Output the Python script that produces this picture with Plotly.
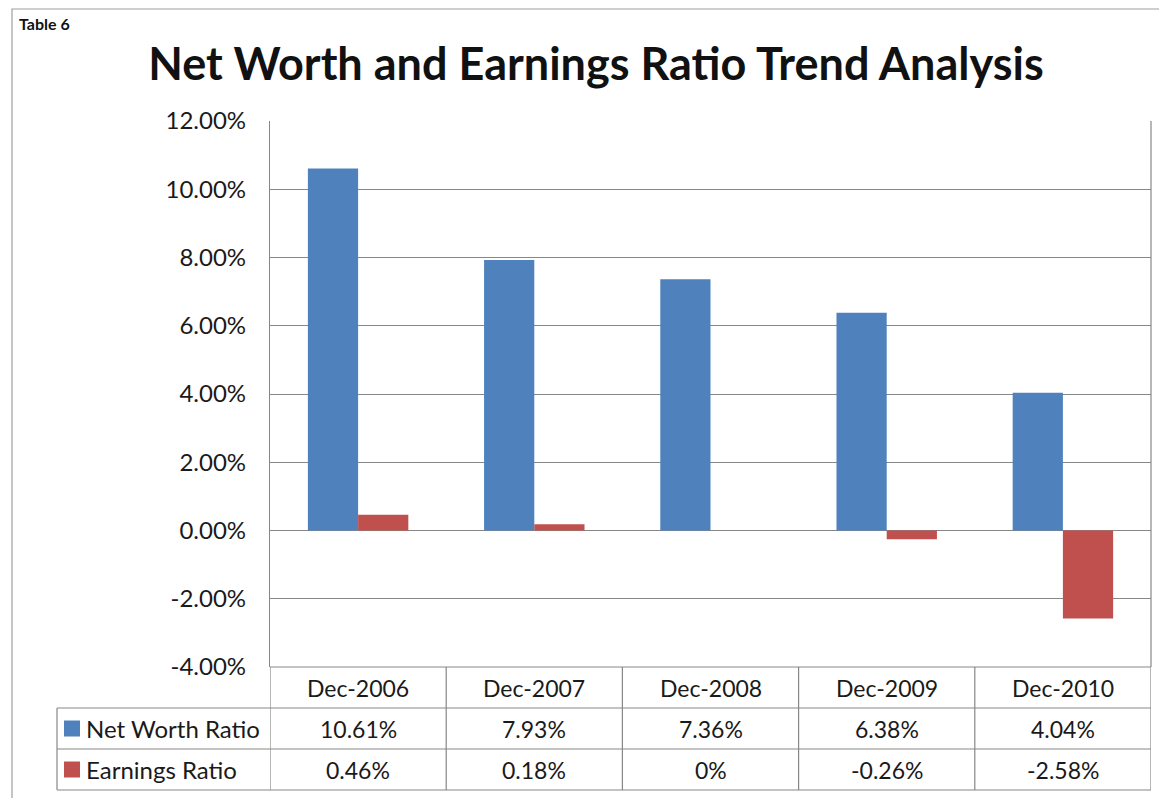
import plotly.graph_objects as go

categories = ["Dec-2006", "Dec-2007", "Dec-2008", "Dec-2009", "Dec-2010"]
net_worth = [10.61, 7.93, 7.36, 6.38, 4.04]
earnings = [0.46, 0.18, 0.0, -0.26, -2.58]
net_worth_labels = ["10.61%", "7.93%", "7.36%", "6.38%", "4.04%"]
earnings_labels = ["0.46%", "0.18%", "0%", "-0.26%", "-2.58%"]
series_names = ["Net Worth Ratio", "Earnings Ratio"]
colors = ["#4F81BD", "#C0504D"]
y_ticks = [-4, -2, 0, 2, 4, 6, 8, 10, 12]
y_tick_labels = ["-4.00%", "-2.00%", "0.00%", "2.00%", "4.00%", "6.00%", "8.00%", "10.00%", "12.00%"]
title_text = "Net Worth and Earnings Ratio Trend Analysis"
caption_text = "Table 6"

W, H = 1167, 798
OFF = 8  # page body margin offset
# plot area in reference (page) pixels
PL, PR, PT, PB = 270, 1151, 121, 667
L = PL - OFF
T = PT - OFF
R = W - (PR - OFF)
B = H - (PB - OFF)
plot_h = PB - PT
plot_w = PR - PL


def py(p):  # reference page pixel y -> paper y
    return (PB - p) / plot_h


def px(p):  # reference page pixel x -> paper x
    return (p - PL) / plot_w


FONT = "Lato"
grid = "#878787"

fig = go.Figure()
for name, vals, col in zip(series_names, [net_worth, earnings], colors):
    fig.add_trace(go.Bar(x=categories, y=vals, name=name, marker_color=col,
                         marker_line_width=0, showlegend=False))

shapes = []
annotations = []

# outer border
shapes.append(dict(type="rect", xref="paper", yref="paper",
                   x0=px(12), x1=px(1220), y0=py(9), y1=py(840),
                   line=dict(color="#a0a0a0", width=1.2), fillcolor="rgba(0,0,0,0)"))

row_px = [667, 708, 749, 790]
row_y = [py(p) for p in row_px]
# table horizontal lines
shapes.append(dict(type="line", xref="paper", yref="paper", x0=0, x1=1,
                   y0=row_y[0], y1=row_y[0], line=dict(color=grid, width=1.2)))
for yy in row_y[1:]:
    shapes.append(dict(type="line", xref="paper", yref="paper", x0=px(57), x1=1,
                       y0=yy, y1=yy, line=dict(color=grid, width=1.2)))
# vertical lines
for i in range(len(categories) + 1):
    shapes.append(dict(type="line", xref="x", yref="paper", x0=i - 0.5, x1=i - 0.5,
                       y0=row_y[0], y1=row_y[3], line=dict(color=grid, width=1.2)))
shapes.append(dict(type="line", xref="paper", yref="paper", x0=px(57), x1=px(57),
                   y0=row_y[1], y1=row_y[3], line=dict(color=grid, width=1.2)))
# right border of plot
shapes.append(dict(type="line", xref="paper", yref="paper", x0=1, x1=1,
                   y0=0, y1=1, line=dict(color=grid, width=1.2)))

tfont = dict(family=FONT, size=23, color="#1a1a1a")
mid = [(row_y[i] + row_y[i + 1]) / 2 for i in range(3)]
for i, c in enumerate(categories):
    for r, txt in enumerate([c, net_worth_labels[i], earnings_labels[i]]):
        annotations.append(dict(x=c, y=mid[r], xref="x", yref="paper", text=txt,
                                xanchor="center", yanchor="middle",
                                showarrow=False, font=tfont))

for k, (name, col) in enumerate(zip(series_names, colors)):
    yc = mid[k + 1]
    shapes.append(dict(type="rect", xref="paper", yref="paper",
                       x0=px(64), x1=px(80), y0=yc - 8 / plot_h, y1=yc + 8 / plot_h,
                       fillcolor=col, line=dict(width=0)))
    annotations.append(dict(x=px(84), y=yc, xref="paper", yref="paper", text=name,
                            xanchor="left", yanchor="middle", showarrow=False,
                            font=dict(family=FONT, size=24, color="#1a1a1a")))

# caption (sits just inside the top-left corner so it stays visible)
annotations.append(dict(x=px(17), y=py(12), xref="paper", yref="paper",
                        text="<b>" + caption_text + "</b>",
                        xanchor="left", yanchor="top", showarrow=False,
                        font=dict(family=FONT, size=16, color="#111")))

fig.update_layout(
    width=W, height=H,
    margin=dict(l=L, r=R, t=T, b=B, autoexpand=False),
    paper_bgcolor="white", plot_bgcolor="white",
    barmode="group", bargap=0.43, bargroupgap=0,
    title=dict(text="<b>" + title_text + "</b>", x=(596 - OFF) / W, xanchor="center",
               y=1 - (64 - OFF) / H, yanchor="middle", xref="container", yref="container",
               font=dict(family=FONT, size=45, color="#111")),
    shapes=shapes, annotations=annotations,
)
fig.update_xaxes(showticklabels=False, showgrid=False, showline=False, zeroline=False,
                 range=[-0.5, 4.5], fixedrange=True)
fig.update_yaxes(range=[-4, 12], tickvals=y_ticks, ticktext=y_tick_labels,
                 showgrid=True, gridcolor=grid, gridwidth=1.2, zeroline=False,
                 showline=True, linecolor=grid, linewidth=1.2, ticks="",
                 tickfont=dict(family=FONT, size=24, color="#1a1a1a"),
                 ticklabelstandoff=18, automargin=False)

fig.write_html("out.html")
